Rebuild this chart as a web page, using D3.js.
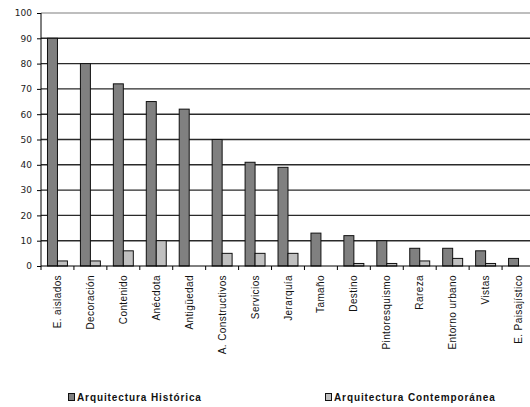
<!DOCTYPE html>
<html>
<head>
<meta charset="utf-8">
<script src="https://cdn.jsdelivr.net/npm/d3@7"></script>
<style>
  body { margin: 0; background: #fff; }
  svg { display: block; }
</style>
</head>
<body>
<div id="chart"></div>
<script>
(function() {
    let w = 530, h = 407

    // data
    let categories = ["E. aislados", "Decoración", "Contenido", "Anécdota", "Antigüedad",
                      "A. Constructivos", "Servicios", "Jerarquía", "Tamaño", "Destino",
                      "Pintoresquismo", "Rareza", "Entorno urbano", "Vistas", "E. Paisajístico"]
    let historica      = [90, 80, 72, 65, 62, 50, 41, 39, 13, 12, 10, 7, 7, 6, 3]
    let contemporanea  = [2, 2, 6, 10, 0, 5, 5, 5, 0, 1, 1, 2, 3, 1, 0]
    let seriesNames = ["Arquitectura Histórica", "Arquitectura Contemporánea"]
    let seriesColors = ["#808080", "#c0c0c0"]
    let yTicks = [0, 10, 20, 30, 40, 50, 60, 70, 80, 90, 100]

    let left = 41, right = 535, top = 13, bottom = 266

    let svg = d3.select("#chart")
                .append("svg")
                .attr("width", w)
                .attr("height", h)

    let x = d3.scaleBand().domain(categories).range([left, right]).padding(0)
    let x1 = d3.scaleBand().domain(seriesNames).range([0, x.bandwidth()])
               .paddingInner(0).paddingOuter(0.65)
    let y = d3.scaleLinear().domain([0, 100]).range([bottom, top])

    // gridlines
    svg.append("g")
       .selectAll("line")
       .data(yTicks.filter(d => d > 0))
       .enter()
       .append("line")
       .attr("x1", left).attr("x2", w)
       .attr("y1", d => y(d)).attr("y2", d => y(d))
       .attr("stroke", d => d == 100 ? "#a8a8a8" : "#2a2a2a")
       .attr("stroke-width", 1.4)

    // y axis
    let yAxis = d3.axisLeft(y).tickValues(yTicks).tickSize(4).tickPadding(5)
    let ya = svg.append("g").attr("transform", "translate(" + left + ",0)").call(yAxis)
    ya.select(".domain").remove()
    ya.selectAll(".tick line").attr("stroke", "#000")
    ya.selectAll("text").attr("font-family", "DejaVu Sans").attr("font-size", 9).attr("fill", "#222")
    svg.append("line")
       .attr("x1", left).attr("x2", left).attr("y1", top).attr("y2", bottom)
       .attr("stroke", "#000")

    // bars
    let rows = categories.map((c, i) => ({cat: c, vals: [historica[i], contemporanea[i]]}))
    let groups = svg.selectAll("g.cat")
                    .data(rows)
                    .enter()
                    .append("g")
                    .attr("class", "cat")
                    .attr("transform", d => "translate(" + x(d.cat) + ",0)")

    groups.selectAll("rect")
          .data(d => d.vals.map((v, i) => ({name: seriesNames[i], v: v, i: i})).filter(d => d.v > 0))
          .enter()
          .append("rect")
          .attr("x", d => x1(d.name))
          .attr("width", x1.bandwidth())
          .attr("y", d => y(d.v))
          .attr("height", d => bottom - y(d.v))
          .attr("fill", d => seriesColors[d.i])
          .attr("stroke", "#111")
          .attr("stroke-width", 1)

    // x axis
    svg.append("line")
       .attr("x1", left).attr("x2", w).attr("y1", bottom).attr("y2", bottom)
       .attr("stroke", "#000")
    svg.selectAll("line.xt")
       .data(categories)
       .enter()
       .append("line")
       .attr("class", "xt")
       .attr("x1", d => x(d)).attr("x2", d => x(d))
       .attr("y1", bottom).attr("y2", bottom + 4)
       .attr("stroke", "#000")

    svg.selectAll("text.cat")
       .data(categories)
       .enter()
       .append("text")
       .attr("class", "cat")
       .text(d => d)
       .attr("text-anchor", "end")
       .attr("transform", d => "translate(" + (x(d) + x.bandwidth() / 2 + 3.5) + "," + (bottom + 9) + ") rotate(-90)")
       .attr("font-family", "Liberation Sans")
       .attr("font-size", 10)
       .attr("letter-spacing", 0.4)
       .attr("fill", "#111")

    // legend
    let legendX = [68, 325]
    let leg = svg.selectAll("g.leg")
                 .data(seriesNames)
                 .enter()
                 .append("g")
                 .attr("class", "leg")
                 .attr("transform", (d, i) => "translate(" + legendX[i] + ",393)")
    leg.append("rect")
       .attr("x", 0.5).attr("y", 0.5).attr("width", 6).attr("height", 7)
       .attr("fill", (d, i) => seriesColors[i])
       .attr("stroke", "#111")
    leg.append("text")
       .text(d => d)
       .attr("x", 9).attr("y", 8)
       .attr("font-family", "Liberation Sans")
       .attr("font-weight", "bold")
       .attr("font-size", 10)
       .attr("letter-spacing", 0.9)
       .attr("fill", "#111")
})()
</script>
</body>
</html>
